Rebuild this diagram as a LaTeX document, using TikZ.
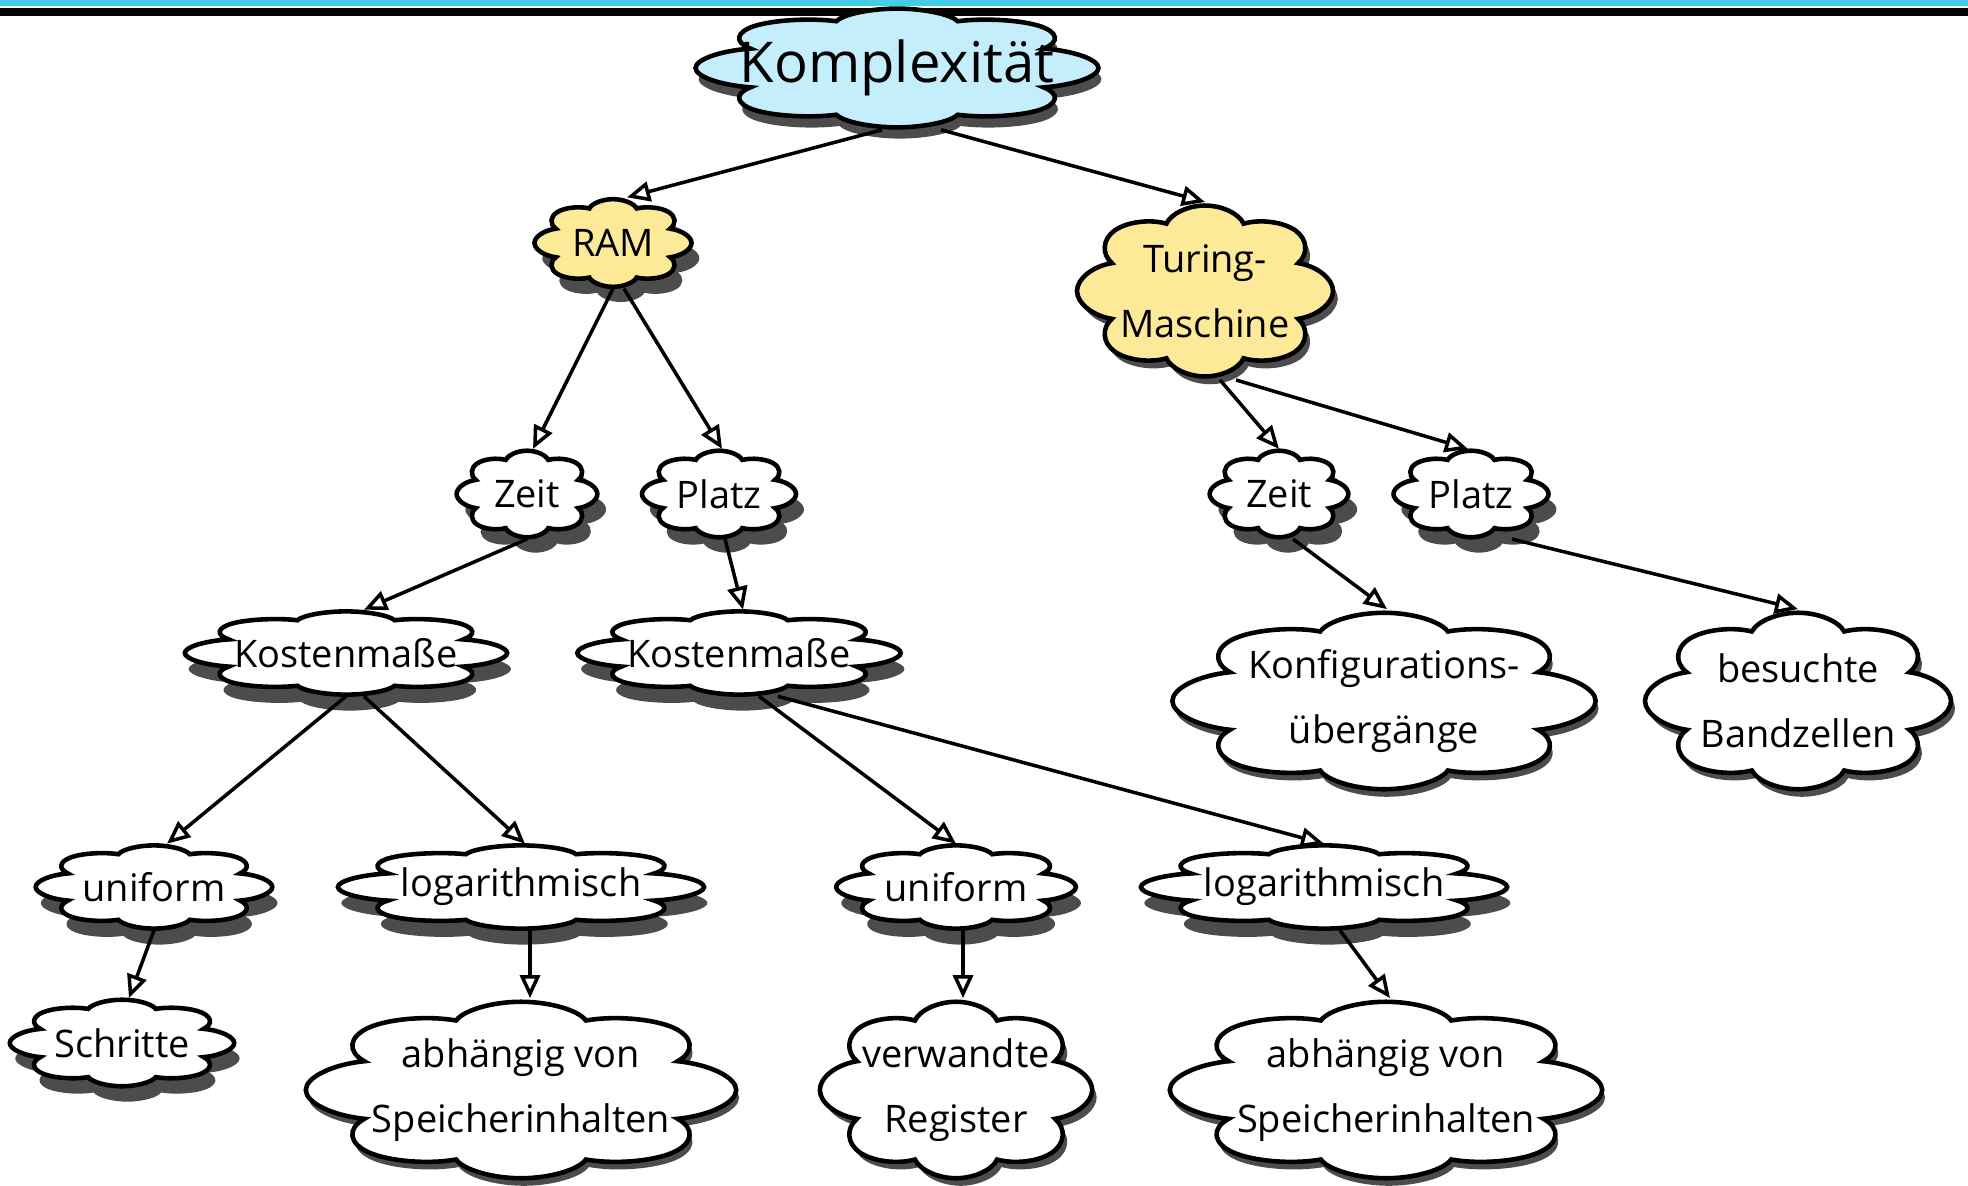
\documentclass[tikz,border=0pt]{standalone}
\usepackage{fontspec}
\setmainfont{Open Sans}
\usetikzlibrary{shapes.symbols,shadows,arrows.meta}
\definecolor{barcyan}{RGB}{66,206,228}
\definecolor{cloudblue}{RGB}{196,238,252}
\definecolor{cloudyellow}{RGB}{252,234,152}

\begin{document}
\begin{tikzpicture}[x=0.1mm,y=-0.1mm,
  idea/.style n args={2}{cloud,cloud puffs=8,cloud puff arc=150,cloud ignores aspect,
    minimum width=10.2mm,minimum height=11.1mm,inner sep=0pt,
    transform shape,xscale=#1,yscale=#2,draw,line width=1.3pt,fill=white,
    drop shadow={shadow xshift=1.2mm/#1,shadow yshift=-1.2mm/#2,fill=black!70,opacity=1}},
  txt/.style={font=\fontsize{10.8}{18.5}\selectfont,align=center,inner sep=0pt},
  arr/.style={line width=1pt,-{Triangle[open,length=2.3mm,width=2mm]}}]
\useasboundingbox (0,0) rectangle (1968,1186);
% title bar
\fill[barcyan] (0,0) rectangle (1968,6);
\fill[black] (0,8) rectangle (1968,16);

\node[idea={3.95}{1.07},fill=cloudblue] (komplex) at (897,68) {};
\node[idea={1.54}{0.79},fill=cloudyellow] (ram) at (613,243) {};
\node[idea={2.51}{1.54},fill=cloudyellow] (turing) at (1205,291) {};

\node[idea={1.38}{0.78}] (zeitL) at (527,494) {};
\node[idea={1.51}{0.78}] (platzL) at (719,494) {};
\node[idea={1.36}{0.78}] (zeitR) at (1279,494) {};
\node[idea={1.52}{0.78}] (platzR) at (1471,494) {};

\node[idea={3.16}{0.75}] (kostenL) at (346,653) {};
\node[idea={3.17}{0.75}] (kostenM) at (739,653) {};
\node[idea={4.15}{1.59}] (konfig) at (1384,701) {};
\node[idea={3.0}{1.59}] (band) at (1798,701) {};

\node[idea={2.32}{0.75}] (uniformL) at (154,887) {};
\node[idea={3.59}{0.75}] (logL) at (521,887) {};
\node[idea={2.35}{0.75}] (uniformR) at (956,887) {};
\node[idea={3.59}{0.75}] (logR) at (1324,887) {};

\node[idea={2.2}{0.78}] (schritte) at (122,1043) {};
\node[idea={4.22}{1.59}] (abhL) at (521,1090) {};
\node[idea={2.67}{1.59}] (verw) at (956,1090) {};
\node[idea={4.24}{1.59}] (abhR) at (1386,1090) {};

% texts
\node[txt,font=\fontsize{16}{20}\selectfont] (komplexT) at (komplex) {Komplexität};
\node[txt] (ramT) at (ram) {RAM};
\node[txt] (turingT) at (turing) {Turing-\\Maschine};
\node[txt] (zeitLT) at (zeitL) {Zeit};
\node[txt] (platzLT) at (platzL) {Platz};
\node[txt] (zeitRT) at (zeitR) {Zeit};
\node[txt] (platzRT) at (platzR) {Platz};
\node[txt] (kostenLT) at (kostenL) {Kostenmaße};
\node[txt] (kostenMT) at (kostenM) {Kostenmaße};
\node[txt] (konfigT) at (konfig) {Konfigurations-\\übergänge};
\node[txt] (bandT) at (band) {besuchte\\Bandzellen};
\node[txt] (uniformLT) at (uniformL) {uniform};
\node[txt] (logLT) at (logL) {logarithmisch};
\node[txt] (uniformRT) at (uniformR) {uniform};
\node[txt] (logRT) at (logR) {logarithmisch};
\node[txt] (schritteT) at (schritte) {Schritte};
\node[txt] (abhLT) at (abhL) {abhängig von\\Speicherinhalten};
\node[txt] (verwT) at (verw) {verwandte\\Register};
\node[txt] (abhRT) at (abhR) {abhängig von\\Speicherinhalten};

% arrows
\draw[arr] ([xshift=-1.5mm]komplex.south) -- ([xshift=1.4mm]ram.north);
\draw[arr] ([xshift=4.4mm]komplex.south) -- (turing.north);
\draw[arr] (ram.south) -- ([xshift=0.6mm]zeitL.north);
\draw[arr] ([xshift=1.1mm]ram.south) -- ([xshift=0.3mm]platzL.north);
\draw[arr] (zeitL.south) -- ([xshift=1.8mm]kostenL.north);
\draw[arr] ([xshift=0.6mm]platzL.south) -- ([xshift=0.4mm]kostenM.north);
\draw[arr] ([xshift=1.5mm]turing.south) -- (zeitR.north);
\draw[arr] ([xshift=3.1mm]turing.south) -- ([xshift=-0.3mm]platzR.north);
\draw[arr] ([xshift=1.4mm]zeitR.south) -- ([xshift=0.3mm]konfig.north);
\draw[arr] ([xshift=4.1mm]platzR.south) -- (band.north);
\draw[arr] (kostenL.south) -- ([xshift=1.3mm]uniformL.north);
\draw[arr] ([xshift=1.8mm]kostenL.south) -- ([xshift=0.4mm]logL.north);
\draw[arr] ([xshift=2mm]kostenM.south) -- (uniformR.north);
\draw[arr] ([xshift=3.9mm]kostenM.south) -- (logR.north);
\draw[arr] (uniformL.south) -- ([xshift=0.7mm]schritte.north);
\draw[arr] ([xshift=0.9mm]logL.south) -- ([xshift=0.9mm]abhL.north);
\draw[arr] ([xshift=0.7mm]uniformR.south) -- ([xshift=0.7mm]verw.north);
\draw[arr] ([xshift=1.6mm]logR.south) -- ([xshift=0.4mm]abhR.north);
\end{tikzpicture}
\end{document}
